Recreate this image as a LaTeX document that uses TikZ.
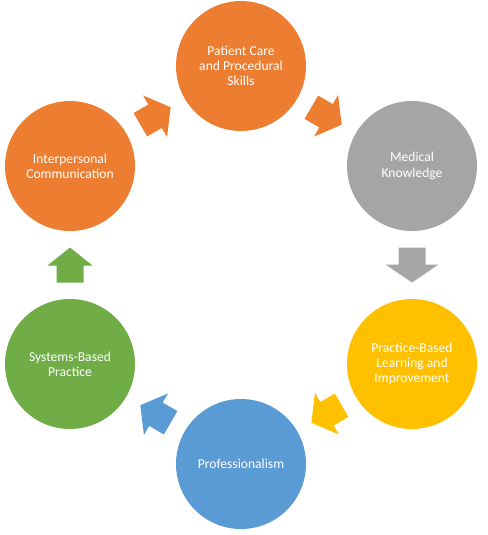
\documentclass[tikz,border=0pt]{standalone}
\usepackage{fontspec}
\setmainfont{Carlito}
\usetikzlibrary{calc}
\definecolor{corange}{HTML}{ED7D31}
\definecolor{cgray}{HTML}{A5A5A5}
\definecolor{cyellow}{HTML}{FFC000}
\definecolor{cblue}{HTML}{5B9BD5}
\definecolor{cgreen}{HTML}{70AD47}
\newcommand\myblockarrow[5]{%
  \fill[#4,shift={($(#1)!0.5!(#2)$)},rotate=#3]
    (-17.5,-13.5) -- (-0.5,-13.5) -- (-0.5,-#5) -- (17.5,0) -- (-0.5,#5) -- (-0.5,13.5) -- (-17.5,13.5) -- cycle;}
\begin{document}
\begin{tikzpicture}[x=1pt,y=-1pt,
  stage/.style={circle,minimum size=130pt,inner sep=0pt,align=center,text=white,
    font=\fontsize{13.6}{15.2}\selectfont}]
\useasboundingbox (0,0) rectangle (487,535);
\node[stage,fill=corange] (pc) at (241,66) {Patient Care\\and Procedural\\Skills};
\node[stage,fill=cgray] (mk) at (412,166) {Medical\\Knowledge};
\node[stage,fill=cyellow] (pb) at (412,364) {Practice-Based\\Learning and\\Improvement};
\node[stage,fill=cblue] (pr) at (241,464) {Professionalism};
\node[stage,fill=cgreen] (sb) at (70,364) {Systems-Based\\Practice};
\node[stage,fill=corange] (ic) at (70,166) {Interpersonal\\Communication};
\myblockarrow{pc}{mk}{-30}{corange}{24}
\myblockarrow{mk}{pb}{-90}{cgray}{26.5}
\myblockarrow{pb}{pr}{-150}{cyellow}{24}
\myblockarrow{pr}{sb}{150}{cblue}{24}
\myblockarrow{sb}{ic}{90}{cgreen}{22.5}
\myblockarrow{ic}{pc}{30}{corange}{24}
\end{tikzpicture}
\end{document}
